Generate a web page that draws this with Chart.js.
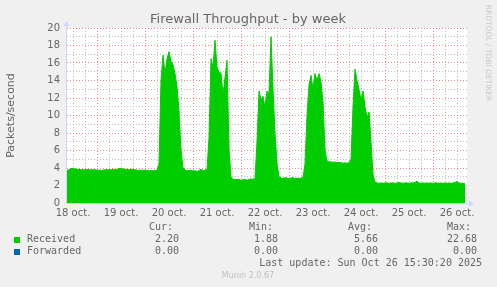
<!DOCTYPE html>
<html>
<head>
<meta charset="utf-8">
<script src="https://cdn.jsdelivr.net/npm/chart.js@4.4.1/dist/chart.umd.min.js"></script>
<style>
  html, body { margin: 0; padding: 0; background: #f0f0f0; }
  #wrap { width: 497px; height: 287px; }
</style>
</head>
<body>
<div id="wrap"><canvas id="graph" width="497" height="287"></canvas></div>
<script>
// Heures depuis le 18 oct. 00:00 ; un point par heure
const START_HOUR = 9;
const END_HOUR = 209;

// Libellés des jours (centrés à midi)
const DAY_LABELS = ["18 oct.", "19 oct.", "20 oct.", "21 oct.", "22 oct.",
  "23 oct.", "24 oct.", "25 oct.", "26 oct."];

// Paquets reçus par seconde
const RECEIVED = [
  // 18-19 oct.
  3.7, 3.8, 3.95, 3.95, 3.9, 3.85, 3.85, 3.8, 3.8, 3.8, 3.85, 3.8,
  3.8, 3.8, 3.8, 3.75, 3.75, 3.75, 3.75, 3.8, 3.8, 3.8, 3.8, 3.85,
  3.8, 3.85, 3.95, 3.95, 3.9, 3.85, 3.85, 3.8, 3.85, 3.85, 3.8, 3.75,
  3.75, 3.75, 3.75, 3.75, 3.7, 3.7, 3.7, 3.7, 3.7, 3.75,
  // pic du 20 oct.
  4.5, 14, 16.9, 14.8, 16.5, 17.3, 16.2, 15.8, 14.8, 13.3, 10.5, 6.0, 4.0, 3.8,
  3.7, 3.7, 3.75, 3.65, 3.7, 3.6, 3.7, 3.85, 3.7, 3.75, 3.8,
  // pic du 21 oct.
  7.5, 16.5, 15.5, 18.6, 15.5, 15.0, 14.8, 12.4, 14.3, 16.3, 6.0, 3.0, 2.7,
  2.7, 2.65, 2.7, 2.6, 2.65, 2.7, 2.6, 2.7, 2.75, 2.7, 2.8,
  // pic du 22 oct.
  7.0, 12.8, 11.8, 12.2, 10.9, 12.8, 12.5, 19.0, 13.0, 8.0, 4.5, 3.0,
  2.85, 2.8, 2.9, 2.85, 2.8, 2.85, 2.9, 2.8, 2.85, 2.8, 2.85, 2.9,
  // pic du 23 oct.
  4.5, 10.0, 13.5, 14.6, 13.0, 14.8, 14.0, 14.8, 13.8, 11.5, 6.0,
  4.8, 4.7, 4.7, 4.65, 4.7, 4.6, 4.65, 4.6, 4.55, 4.6, 4.55, 4.6,
  // pic du 24 oct.
  5.0, 11.0, 15.3, 14.0, 13.0, 11.8, 12.8, 11.0, 9.8, 10.4, 7.0, 3.2, 2.4,
  // 24-26 oct.
  2.3, 2.25, 2.3, 2.25, 2.3, 2.3, 2.25, 2.3, 2.3, 2.25, 2.3, 2.35,
  2.3, 2.25, 2.3, 2.3, 2.25, 2.3, 2.3, 2.35, 2.5, 2.3, 2.25, 2.3,
  2.25, 2.3, 2.25, 2.3, 2.25, 2.3, 2.3, 2.25, 2.3, 2.25, 2.3, 2.25,
  2.3, 2.25, 2.3, 2.35, 2.45, 2.3, 2.25, 2.25, 2.2
];

// Légende
const LEGEND_NAMES = ["Received", "Forwarded"];
const LEGEND_COLORS = ["#00cc00", "#0066b3"];
const CUR = ["2.20", "0.00"];
const MIN = ["1.88", "0.00"];
const AVG = ["5.66", "0.00"];
const MAX = ["22.68", "0.00"];

const TEXT_COLOR = "#666666";
const AXIS_COLOR = "#cfd6f8";
const MAJOR_GRID = "rgba(230, 110, 110, 0.8)";
const MINOR_GRID = "rgba(150, 150, 150, 0.6)";

// Plugin pour le fond, les flèches, les titres et la légende
const muninDecor = {
  id: "muninDecor",
  beforeDraw(chart) {
    const { ctx, chartArea: a } = chart;
    ctx.save();
    ctx.fillStyle = "#ffffff";
    ctx.fillRect(a.left, a.top, a.right - a.left, a.bottom - a.top);
    ctx.restore();
  },
  afterDraw(chart) {
    const { ctx, chartArea: a } = chart;
    ctx.save();

    // axes
    ctx.strokeStyle = AXIS_COLOR;
    ctx.fillStyle = AXIS_COLOR;
    ctx.lineWidth = 1;
    ctx.beginPath();
    ctx.moveTo(a.left - 0.5, a.bottom + 0.5);
    ctx.lineTo(a.right + 4, a.bottom + 0.5);
    ctx.moveTo(a.left - 0.5, a.bottom + 0.5);
    ctx.lineTo(a.left - 0.5, a.top - 4);
    ctx.stroke();
    ctx.beginPath();
    ctx.moveTo(a.right + 7, a.bottom + 0.5);
    ctx.lineTo(a.right + 2, a.bottom - 2.5);
    ctx.lineTo(a.right + 2, a.bottom + 3.5);
    ctx.fill();
    ctx.beginPath();
    ctx.moveTo(a.left - 0.5, a.top - 7);
    ctx.lineTo(a.left - 3.5, a.top - 2);
    ctx.lineTo(a.left + 2.5, a.top - 2);
    ctx.fill();

    // titre
    ctx.fillStyle = TEXT_COLOR;
    ctx.textAlign = "center";
    ctx.textBaseline = "middle";
    ctx.font = '13px "DejaVu Sans"';
    ctx.fillText("Firewall Throughput - by week", 248, 19.5);

    // titre de l'axe vertical
    ctx.save();
    ctx.translate(11, (a.top + a.bottom) / 2);
    ctx.rotate(-Math.PI / 2);
    ctx.font = '11px "DejaVu Sans"';
    ctx.fillText("Packets/second", 0, 0);
    ctx.restore();

    // signature rrdtool
    ctx.save();
    ctx.translate(488, 53);
    ctx.rotate(Math.PI / 2);
    ctx.fillStyle = "#c8c8c8";
    ctx.font = '7.5px "DejaVu Sans"';
    ctx.fillText("RRDTOOL / TOBI OETIKER", 0, 0);
    ctx.restore();

    // légende
    ctx.font = '10px "DejaVu Sans Mono"';
    ctx.textAlign = "left";
    ctx.fillStyle = TEXT_COLOR;
    const colsHead = [149, 249, 348, 447];
    ["Cur:", "Min:", "Avg:", "Max:"].forEach((h, i) => ctx.fillText(h, colsHead[i], 227));
    const colsVal = [179, 278, 378, 477];
    LEGEND_NAMES.forEach((name, r) => {
      const y = 239.5 + r * 12.2;
      ctx.fillStyle = LEGEND_COLORS[r];
      ctx.fillRect(14, Math.round(y) - 3, 6, 6);
      ctx.fillStyle = TEXT_COLOR;
      ctx.textAlign = "left";
      ctx.fillText(name, 27, y);
      ctx.textAlign = "right";
      [CUR, MIN, AVG, MAX].forEach((col, c) => ctx.fillText(col[r], colsVal[c], y));
    });
    ctx.textAlign = "right";
    ctx.fillText("Last update: Sun Oct 26 15:30:20 2025", 482, 263.5);

    ctx.textAlign = "center";
    ctx.fillStyle = "#c0c0c0";
    ctx.font = '8px "DejaVu Sans"';
    ctx.fillText("Munin 2.0.67", 248, 276);
    ctx.restore();
  },
};

function initGraph() {
  const points = RECEIVED.map((v, i) => ({ x: START_HOUR + i, y: v }));

  const ctx = document.getElementById("graph").getContext("2d");
  new Chart(ctx, {
    type: "line",
    data: {
      datasets: [
        {
          label: "Received",
          data: points,
          backgroundColor: "#00cc00",
          borderColor: "#00cc00",
          borderWidth: 1,
          fill: "origin",
          pointRadius: 0,
          tension: 0,
        },
      ],
    },
    options: {
      responsive: false,
      animation: false,
      devicePixelRatio: 1,
      layout: { padding: { left: 0, top: 28, right: 30, bottom: 0 } },
      plugins: {
        legend: { display: false },
        title: { display: false },
        tooltip: { enabled: false },
      },
      scales: {
        x: {
          type: "linear",
          min: START_HOUR,
          max: END_HOUR,
          afterFit: (s) => { s.height = 84; },
          afterBuildTicks: (s) => {
            const t = [];
            for (let h = 12; h < END_HOUR; h += 6) t.push({ value: h });
            s.ticks = t;
          },
          border: { display: false, dash: [1, 2] },
          grid: {
            drawTicks: false,
            color: (c) => (c.tick && c.tick.value % 24 === 0 ? MAJOR_GRID : MINOR_GRID),
          },
          ticks: {
            autoSkip: false,
            maxRotation: 0,
            padding: 4,
            color: TEXT_COLOR,
            font: { family: "DejaVu Sans", size: 10 },
            callback: (v) => (v % 24 === 12 ? DAY_LABELS[(v - 12) / 24] : ""),
          },
        },
        y: {
          min: 0,
          max: 20,
          afterFit: (s) => { s.width = 67; },
          afterBuildTicks: (s) => {
            const t = [];
            for (let v = 0; v <= 20; v++) t.push({ value: v });
            s.ticks = t;
          },
          border: { display: false, dash: [1, 2] },
          grid: {
            drawTicks: false,
            color: (c) => (c.tick && c.tick.value % 2 === 0 ? MAJOR_GRID : MINOR_GRID),
          },
          ticks: {
            autoSkip: false,
            padding: 7,
            color: TEXT_COLOR,
            font: { family: "DejaVu Sans", size: 10 },
            callback: (v) => (v % 2 === 0 ? String(v) : ""),
          },
        },
      },
    },
    plugins: [muninDecor],
  });
}

document.addEventListener("DOMContentLoaded", initGraph);
</script>
</body>
</html>
